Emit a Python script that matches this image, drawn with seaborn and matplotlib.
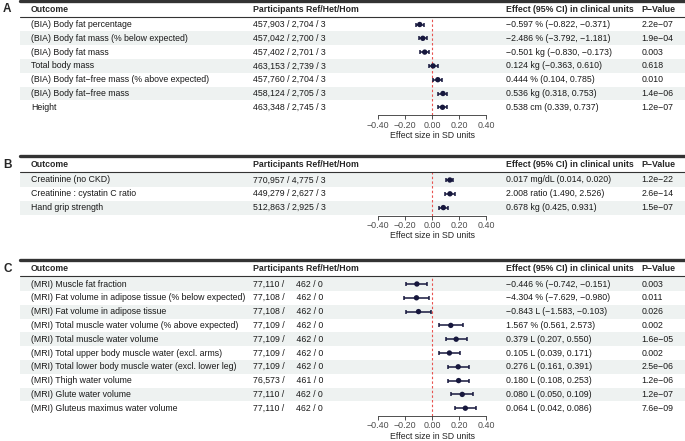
import numpy as np
import seaborn as sns
import matplotlib.pyplot as plt
from matplotlib.transforms import blended_transform_factory
from matplotlib.patches import Rectangle

# ---- panel A ----
a_outcome = ["(BIA) Body fat percentage", "(BIA) Body fat mass (% below expected)",
             "(BIA) Body fat mass", "Total body mass",
             "(BIA) Body fat\u2212free mass (% above expected)", "(BIA) Body fat\u2212free mass", "Height"]
a_part = ["457,903 / 2,704 / 3", "457,042 / 2,700 / 3", "457,402 / 2,701 / 3", "463,153 / 2,739 / 3",
          "457,760 / 2,704 / 3", "458,124 / 2,705 / 3", "463,348 / 2,745 / 3"]
a_est = [-0.091, -0.068, -0.054, 0.008, 0.043, 0.081, 0.078]
a_lo = [-0.122, -0.100, -0.087, -0.025, 0.010, 0.048, 0.048]
a_hi = [-0.060, -0.036, -0.021, 0.041, 0.076, 0.114, 0.108]
a_effect = ["\u22120.597 % (\u22120.822, \u22120.371)", "\u22122.486 % (\u22123.792, \u22121.181)",
            "\u22120.501 kg (\u22120.830, \u22120.173)", "0.124 kg (\u22120.363, 0.610)",
            "0.444 % (0.104, 0.785)", "0.536 kg (0.318, 0.753)", "0.538 cm (0.339, 0.737)"]
a_p = ["2.2e\u221207", "1.9e\u221204", "0.003", "0.618", "0.010", "1.4e\u221206", "1.2e\u221207"]

# ---- panel B ----
b_outcome = ["Creatinine (no CKD)", "Creatinine : cystatin C ratio", "Hand grip strength"]
b_part = ["770,957 / 4,775 / 3", "449,279 / 2,627 / 3", "512,863 / 2,925 / 3"]
b_est = [0.132, 0.133, 0.084]
b_lo = [0.106, 0.098, 0.052]
b_hi = [0.158, 0.168, 0.117]
b_effect = ["0.017 mg/dL (0.014, 0.020)", "2.008 ratio (1.490, 2.526)", "0.678 kg (0.425, 0.931)"]
b_p = ["1.2e\u221222", "2.6e\u221214", "1.5e\u221207"]

# ---- panel C ----
c_outcome = ["(MRI) Muscle fat fraction", "(MRI) Fat volume in adipose tissue (% below expected)",
             "(MRI) Fat volume in adipose tissue", "(MRI) Total muscle water volume (% above expected)",
             "(MRI) Total muscle water volume", "(MRI) Total upper body muscle water (excl. arms)",
             "(MRI) Total lower body muscle water (excl. lower leg)", "(MRI) Thigh water volume",
             "(MRI) Glute water volume", "(MRI) Gluteus maximus water volume"]
c_part = ["77,110 /     462 / 0", "77,108 /     462 / 0", "77,108 /     462 / 0", "77,109 /     462 / 0",
          "77,109 /     462 / 0", "77,109 /     462 / 0", "77,109 /     462 / 0", "76,573 /     461 / 0",
          "77,110 /     462 / 0", "77,110 /     462 / 0"]
c_est = [-0.112, -0.115, -0.100, 0.139, 0.179, 0.129, 0.194, 0.197, 0.224, 0.247]
c_lo = [-0.189, -0.204, -0.189, 0.052, 0.100, 0.050, 0.115, 0.120, 0.142, 0.167]
c_hi = [-0.034, -0.024, -0.010, 0.228, 0.259, 0.210, 0.276, 0.274, 0.306, 0.328]
c_effect = ["\u22120.446 % (\u22120.742, \u22120.151)", "\u22124.304 % (\u22127.629, \u22120.980)",
            "\u22120.843 L (\u22121.583, \u22120.103)", "1.567 % (0.561, 2.573)", "0.379 L (0.207, 0.550)",
            "0.105 L (0.039, 0.171)", "0.276 L (0.161, 0.391)", "0.180 L (0.108, 0.253)",
            "0.080 L (0.050, 0.109)", "0.064 L (0.042, 0.086)"]
c_p = ["0.003", "0.011", "0.026", "0.002", "1.6e\u221205", "0.002", "2.5e\u221206", "1.2e\u221206",
       "1.2e\u221207", "7.6e\u221209"]

ticks = [-0.4, -0.2, 0.0, 0.2, 0.4]
headers = ["Outcome", "Participants Ref/Het/Hom", "Effect (95% CI) in clinical units", "P\u2212Value"]

W, H = 685, 441
ROW = 13.8
NAVY = "#16173d"
SHADE = "#eef2f1"
FS = 6.3

sns.set_style("white")
plt.rcParams['font.family'] = ['Liberation Sans', 'DejaVu Sans']

fig = plt.figure(figsize=(W / 100, H / 100), dpi=100)


def fx(p):
    return p / W


def draw_panel(letter, row0, outcome, part, est, lo, hi, effect, pval, shade_odd):
    n = len(est)
    top = row0 - 0.55 * ROW
    bottom = row0 + (n - 1 + 0.58) * ROW
    left, right = 371.25, 492.75
    ax = fig.add_axes([fx(left), 1 - bottom / H, (right - left) / W, (bottom - top) / H])
    rows = np.arange(n)
    ax.set_xlim(-0.45, 0.45)
    ax.set_ylim(n - 1 + 0.58, -0.55)

    tr = blended_transform_factory(fig.transFigure, ax.transData)
    # row shading
    for i in rows:
        if (i % 2 == 0) == shade_odd:
            ax.add_patch(Rectangle((fx(20), i - 0.5), fx(W - 20), 1.0, transform=tr,
                                   color=SHADE, lw=0, clip_on=False, zorder=0))
    # header lines
    y_top = -24 / ROW
    ax.plot([fx(20), 1], [y_top, y_top], transform=tr, color="#333333", lw=2.4, clip_on=False)
    ax.plot([fx(20), 1], [-0.55, -0.55], transform=tr, color="#333333", lw=0.8, clip_on=False)
    y_head = -15.5 / ROW
    ax.text(fx(3), y_head, letter, transform=tr, fontsize=8.5, fontweight="bold", va="center")
    for xp, h in zip([31, 253, 505.7, 641.7], headers):
        ax.text(fx(xp), y_head, h, transform=tr, fontsize=FS, fontweight="bold", va="center")
    for i in rows:
        for xp, t in zip([31, 253, 505.7, 641.7], [outcome[i], part[i], effect[i], pval[i]]):
            ax.text(fx(xp), i, t, transform=tr, fontsize=FS, va="center", color="#1a1a1a")

    ax.axvline(0, color="#e8524f", ls=(0, (2.2, 2)), lw=0.8, zorder=1)
    ax.errorbar(est, rows, xerr=[np.array(est) - np.array(lo), np.array(hi) - np.array(est)],
                fmt="none", ecolor=NAVY, elinewidth=1.1, capsize=1.6, capthick=1.1, zorder=2)
    sns.scatterplot(x=est, y=rows, ax=ax, color=NAVY, s=15, edgecolor="none", zorder=3, legend=False)

    for s in ["left", "top", "right"]:
        ax.spines[s].set_visible(False)
    ax.spines["bottom"].set_bounds(-0.4, 0.4)
    ax.spines["bottom"].set_color("#333333")
    ax.spines["bottom"].set_linewidth(0.6)
    ax.set_yticks([])
    ax.set_xticks(ticks)
    ax.set_xticklabels([f"{t:.2f}".replace("-", "\u2212") for t in ticks])
    ax.tick_params(axis="x", bottom=True, length=2.8, width=0.6, color="#333333",
                   labelsize=6.4, labelcolor="#4d4d4d", pad=1)
    ax.set_xlabel("Effect size in SD units", fontsize=FS, labelpad=1)
    ax.set_ylabel("")
    ax.patch.set_alpha(0)
    return ax


draw_panel("A", 24.5, a_outcome, a_part, a_est, a_lo, a_hi, a_effect, a_p, False)
draw_panel("B", 180.0, b_outcome, b_part, b_est, b_lo, b_hi, b_effect, b_p, True)
draw_panel("C", 284.0, c_outcome, c_part, c_est, c_lo, c_hi, c_effect, c_p, True)

fig.savefig("out.png", dpi=100)
